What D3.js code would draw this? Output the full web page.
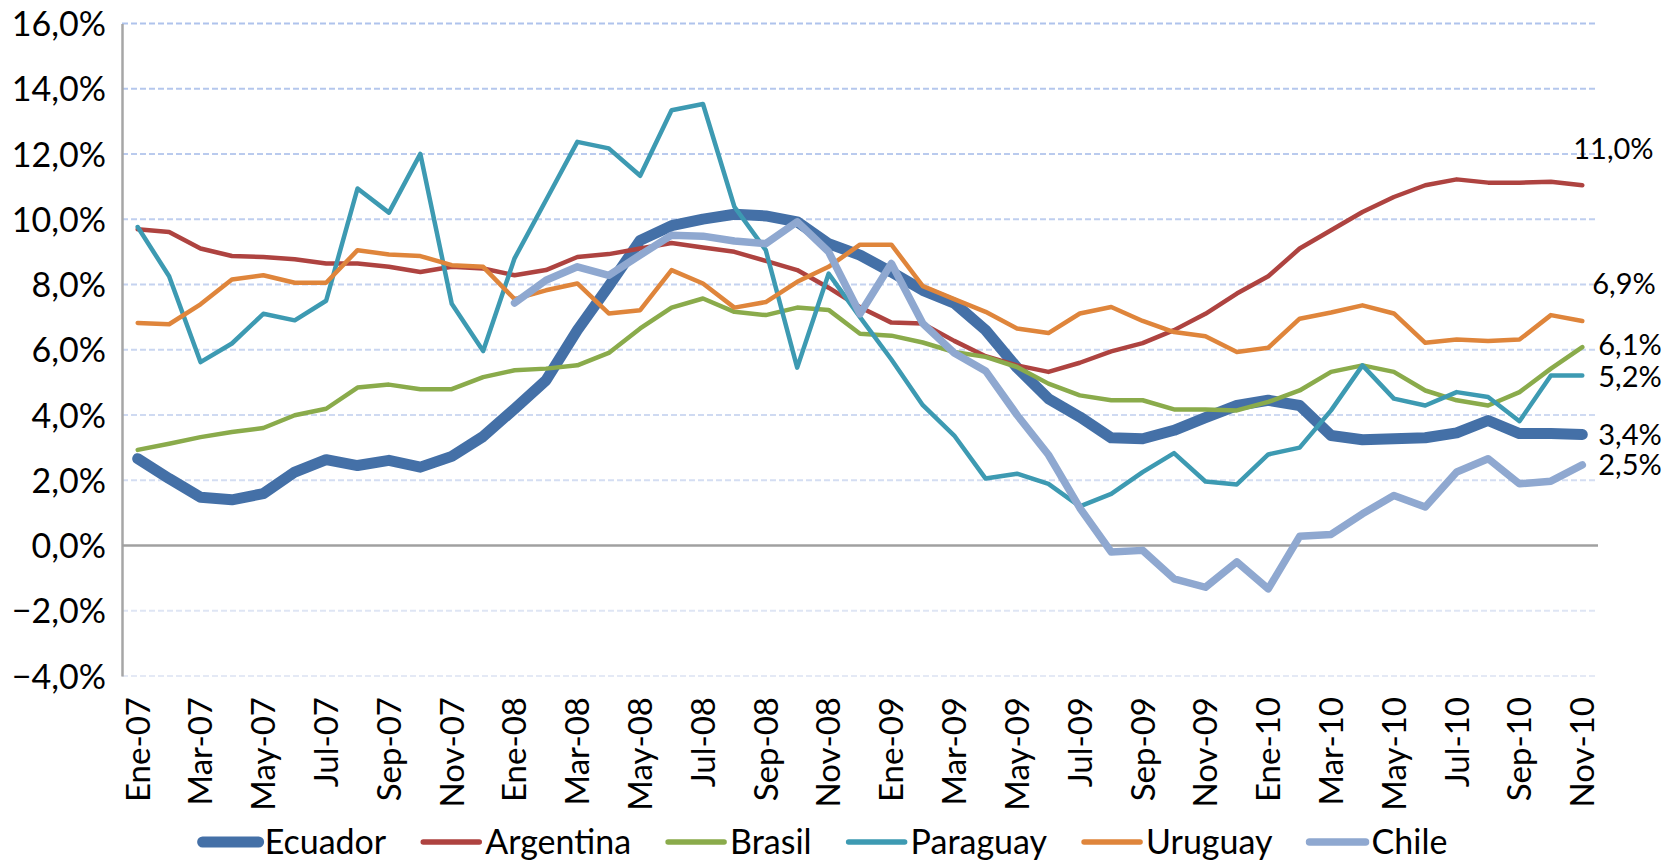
<!DOCTYPE html>
<html>
<head>
<meta charset="utf-8">
<script src="https://cdn.jsdelivr.net/npm/d3@7"></script>
<style>
  body { margin: 0; background: #fff; }
  text { font-family: Lato, "Open Sans", sans-serif; fill: #000; }
</style>
</head>
<body>
<svg id="chart" width="1667" height="863"></svg>
<script>
// DATA ----------------------------------------------
const months = [
  "Ene-07", "Feb-07", "Mar-07", "Abr-07", "May-07", "Jun-07", "Jul-07", "Ago-07", "Sep-07", "Oct-07", "Nov-07", "Dic-07",
  "Ene-08", "Feb-08", "Mar-08", "Abr-08", "May-08", "Jun-08", "Jul-08", "Ago-08", "Sep-08", "Oct-08", "Nov-08", "Dic-08",
  "Ene-09", "Feb-09", "Mar-09", "Abr-09", "May-09", "Jun-09", "Jul-09", "Ago-09", "Sep-09", "Oct-09", "Nov-09", "Dic-09",
  "Ene-10", "Feb-10", "Mar-10", "Abr-10", "May-10", "Jun-10", "Jul-10", "Ago-10", "Sep-10", "Oct-10", "Nov-10"
];

const ecuador = [
  2.66, 2.05, 1.48, 1.40, 1.59, 2.25, 2.63, 2.45, 2.61, 2.40, 2.73, 3.34,
  4.19, 5.06, 6.60, 7.95, 9.35, 9.80, 10.00, 10.15, 10.10, 9.92, 9.25, 8.90,
  8.38, 7.82, 7.43, 6.60, 5.45, 4.50, 3.94, 3.30, 3.27, 3.53, 3.92, 4.29,
  4.45, 4.29, 3.37, 3.24, 3.27, 3.30, 3.45, 3.83, 3.43, 3.43, 3.40
];
const argentina = [
  9.69, 9.61, 9.10, 8.87, 8.84, 8.77, 8.64, 8.64, 8.54, 8.38, 8.54, 8.49,
  8.28, 8.44, 8.84, 8.93, 9.10, 9.27, 9.13, 9.00, 8.72, 8.44, 7.90, 7.30,
  6.83, 6.80, 6.27, 5.80, 5.52, 5.32, 5.60, 5.95, 6.20, 6.60, 7.10, 7.72,
  8.25, 9.10, 9.66, 10.22, 10.68, 11.04, 11.22, 11.12, 11.12, 11.15, 11.04
];
const brasil = [
  2.93, 3.12, 3.32, 3.48, 3.60, 3.99, 4.19, 4.84, 4.93, 4.79, 4.79, 5.16,
  5.37, 5.42, 5.52, 5.90, 6.65, 7.29, 7.57, 7.16, 7.06, 7.29, 7.22, 6.49,
  6.43, 6.22, 5.93, 5.78, 5.47, 4.96, 4.60, 4.45, 4.45, 4.17, 4.17, 4.14,
  4.40, 4.75, 5.32, 5.52, 5.32, 4.75, 4.45, 4.29, 4.70, 5.42, 6.08
];
const paraguay = [
  9.76, 8.25, 5.62, 6.19, 7.10, 6.90, 7.50, 10.94, 10.20, 12.00, 7.41, 5.96,
  8.80, 10.58, 12.37, 12.17, 11.33, 13.34, 13.53, 10.38, 9.05, 5.45, 8.33, 7.00,
  5.70, 4.30, 3.37, 2.05, 2.20, 1.89, 1.20, 1.58, 2.25, 2.83, 1.96, 1.87,
  2.79, 3.00, 4.14, 5.52, 4.50, 4.29, 4.70, 4.55, 3.81, 5.21, 5.21
];
const uruguay = [
  6.82, 6.78, 7.39, 8.15, 8.28, 8.05, 8.05, 9.05, 8.92, 8.87, 8.59, 8.54,
  7.55, 7.82, 8.03, 7.11, 7.21, 8.44, 8.03, 7.29, 7.46, 8.08, 8.54, 9.22,
  9.22, 7.95, 7.55, 7.16, 6.65, 6.51, 7.11, 7.31, 6.88, 6.54, 6.41, 5.93,
  6.06, 6.95, 7.14, 7.36, 7.11, 6.21, 6.31, 6.27, 6.31, 7.06, 6.88
];
const chile = [
  null, null, null, null, null, null, null, null, null, null, null, null,
  7.43, 8.13, 8.54, 8.28, 8.90, 9.51, 9.48, 9.33, 9.25, 9.92, 9.00, 7.10,
  8.64, 6.80, 5.90, 5.35, 4.00, 2.78, 1.15, -0.20, -0.15, -1.02, -1.28, -0.50,
  -1.33, 0.28, 0.34, 0.97, 1.53, 1.18, 2.25, 2.66, 1.89, 1.97, 2.47
];

const yTicks = [-4, -2, 0, 2, 4, 6, 8, 10, 12, 14, 16];

const series = [
  { name: "Ecuador", values: ecuador, color: "#4470A7", width: 11 },
  { name: "Argentina", values: argentina, color: "#AE4340", width: 4.5 },
  { name: "Brasil", values: brasil, color: "#8AAB4B", width: 4.5 },
  { name: "Paraguay", values: paraguay, color: "#3D9AB2", width: 4.5 },
  { name: "Uruguay", values: uruguay, color: "#DF853B", width: 4.5 },
  { name: "Chile", values: chile, color: "#8FA8D0", width: 7.5 },
];

// manual nudges for the end labels (the two upper ones were moved up in the original)
const labelNudge = {
  Argentina: { dx: -9, dy: -36 },
  Uruguay: { dx: 10, dy: -37 },
  Brasil: { dx: 16, dy: -2 },
  Paraguay: { dx: 16, dy: 1 },
};

// CHART ----------------------------------------------
const svg = d3.select("#chart");
const margin = { top: 23.4, right: 69, bottom: 187, left: 122 };
const W = 1667, H = 863;

const x = d3.scaleBand().domain(months).range([margin.left, W - margin.right]).paddingInner(0).paddingOuter(0);
const y = d3.scaleLinear().domain([-4, 16]).range([H - margin.bottom, margin.top]);
const cx = (m) => x(m) + x.bandwidth() / 2;

const fmt = (v) => d3.format(".1f")(v).replace(".", ",") + "%";

// gridline gradient (darker at top, lighter at bottom)
const defs = svg.append("defs");
const grad = defs.append("linearGradient")
  .attr("id", "gridGrad")
  .attr("gradientUnits", "userSpaceOnUse")
  .attr("x1", 0).attr("x2", 0)
  .attr("y1", y(16)).attr("y2", y(-4));
grad.append("stop").attr("offset", "0%").attr("stop-color", "#AFC3EC");
grad.append("stop").attr("offset", "100%").attr("stop-color", "#E4E9F5");

// gridlines
svg.append("g")
  .selectAll("line")
  .data(yTicks.filter((d) => d !== 0))
  .enter()
  .append("line")
  .attr("x1", margin.left)
  .attr("x2", W - margin.right)
  .attr("y1", (d) => y(d))
  .attr("y2", (d) => y(d))
  .attr("stroke", "url(#gridGrad)")
  .attr("stroke-width", 2)
  .attr("stroke-dasharray", "6,3");

// y axis
const yAxis = svg.append("g")
  .attr("transform", "translate(" + margin.left + ",0)")
  .call(d3.axisLeft(y).tickValues(yTicks).tickSize(0).tickPadding(16).tickFormat(fmt));
yAxis.select(".domain").attr("stroke", "#A6A6A6").attr("stroke-width", 2.5);
yAxis.selectAll("text")
  .style("font-size", "34px")
  .attr("dy", "0.36em");

// zero line
svg.append("line")
  .attr("x1", margin.left)
  .attr("x2", W - margin.right)
  .attr("y1", y(0))
  .attr("y2", y(0))
  .attr("stroke", "#A0A0A0")
  .attr("stroke-width", 2.5);

// x labels (every second month)
svg.append("g")
  .selectAll("text")
  .data(months.filter((d, i) => i % 2 === 0))
  .enter()
  .append("text")
  .attr("transform", (d) => "translate(" + cx(d) + "," + (y(-4) + 21) + ") rotate(-90)")
  .attr("text-anchor", "end")
  .attr("dy", "0.36em")
  .style("font-size", "33px")
  .text((d) => d);

// lines
const line = d3.line()
  .defined((d) => d.v !== null)
  .x((d) => cx(d.m))
  .y((d) => y(d.v));

svg.append("g")
  .selectAll("path")
  .data(series)
  .enter()
  .append("path")
  .attr("fill", "none")
  .attr("stroke", (d) => d.color)
  .attr("stroke-width", (d) => d.width)
  .attr("stroke-linejoin", "round")
  .attr("stroke-linecap", "round")
  .attr("d", (d) => line(d.values.map((v, i) => ({ m: months[i], v: v }))));

// end labels
const last = months[months.length - 1];
svg.append("g")
  .selectAll("text")
  .data(series)
  .enter()
  .append("text")
  .attr("x", (d) => cx(last) + (labelNudge[d.name] ? labelNudge[d.name].dx : 16))
  .attr("y", (d) => y(d.values[d.values.length - 1]) + (labelNudge[d.name] ? labelNudge[d.name].dy : 0))
  .attr("dy", "0.35em")
  .style("font-size", "29px")
  .text((d) => fmt(d.values[d.values.length - 1]));

// legend
const legend = svg.append("g");
const items = legend.selectAll("g")
  .data(series)
  .enter()
  .append("g");
items.append("line")
  .attr("x1", 0).attr("x2", 56)
  .attr("y1", 0).attr("y2", 0)
  .attr("stroke", (d) => d.color)
  .attr("stroke-width", (d) => Math.max(d.width, 5.5))
  .attr("stroke-linecap", "round");
items.append("text")
  .attr("x", 62)
  .attr("dy", "0.36em")
  .style("font-size", "34px")
  .text((d) => d.name);

let pos = 0;
const offsets = [];
items.each(function () {
  offsets.push(pos);
  pos += 62 + this.querySelector("text").getComputedTextLength() + 37;
});
const totalW = pos - 37;
const startX = 825 - totalW / 2;
items.attr("transform", (d, i) => "translate(" + (startX + offsets[i]) + ",842)");
</script>
</body>
</html>
